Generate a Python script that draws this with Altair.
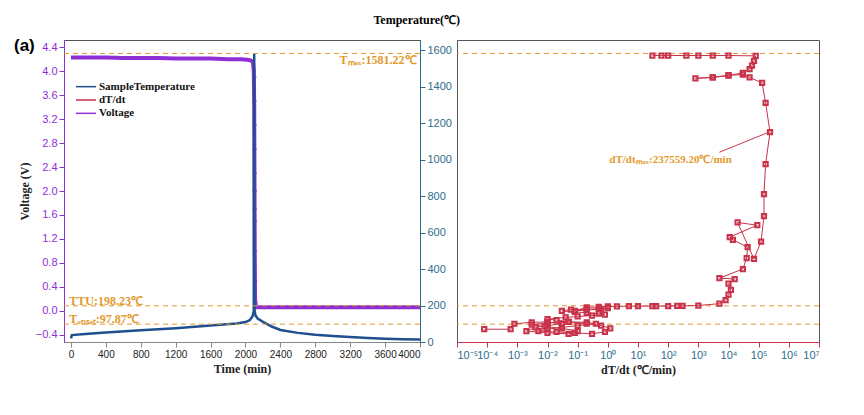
import altair as alt
import pandas as pd

FONT = "Liberation Serif"
PURPLE = "#8e2fd6"
BLUE = "#1f4f8f"
TEAL = "#2d6d8c"
RED = "#c8324a"
ORANGE = "#e39a2d"

# voltage vs time
volt_t = [0, 200, 400, 600, 800, 1000, 1200, 1400, 1600, 1800, 1950, 2020, 2060, 2085, 2095, 2100, 2103, 2106, 2110, 2120, 2200, 2600, 3000, 3400, 3800, 4000]
volt_v = [4.23, 4.23, 4.23, 4.22, 4.22, 4.22, 4.21, 4.21, 4.21, 4.20, 4.20, 4.19, 4.18, 4.15, 4.00, 3.4, 2.2, 1.0, 0.2, 0.06, 0.06, 0.06, 0.06, 0.06, 0.06, 0.06]
# scattered voltage points during the drop
drop_t = [2100, 2101, 2102, 2103, 2104, 2105, 2106, 2107, 2108, 2109]
drop_v = [3.9, 3.5, 3.1, 2.7, 2.3, 2.0, 1.7, 1.5, 1.0, 0.5]

# sample temperature vs time
temp_t = [0, 10, 200, 400, 800, 1200, 1600, 1900, 2000, 2050, 2080, 2095, 2100, 2102, 2105, 2115, 2140, 2200, 2300, 2400, 2600, 2800, 3000, 3200, 3400, 3600, 3800, 4000]
temp_v = [20, 38, 45, 52, 64, 76, 90, 102, 109, 120, 140, 170, 1581, 300, 170, 145, 128, 110, 85, 66, 50, 40, 33, 27, 22, 18, 15, 14]

# dT/dt vs temperature, in drawing order
rate = [8e-5, 6e-4, 8e-4, 3e-3, 1e-2, 3e-2, 1e-2, 4e-3, 2e-3, 1e-2, 5e-2, 1e-1, 3e-2, 8e-3, 3e-3, 1e-2, 5e-2, 2e-1, 4e-1, 1e-1, 3e-2, 1e-2, 5e-3, 2e-2, 8e-2, 3e-1, 8e-1, 1.2, 6e-1, 2e-1, 5e-2, 2e-2, 1e-2, 4e-2, 1e-1, 3e-1, 8e-1, 5e-1, 2e-1, 8e-2, 3e-2, 6e-2, 2e-1, 5e-1, 1.0, 6e-1, 2e-1, 8e-2, 2e-1, 5e-1, 1.0, 2.0, 5.0, 1e1, 3e1, 4e1, 1e2, 2e2, 3e2, 1e3, 5e3, 8e3, 1e4, 1.2e4, 1e4, 1.6e4, 5e3, 3e4, 4e4, 4.3e4, 1.4e4, 1.1e4, 9e4, 2e4, 7e4, 1.2e5, 1.5e5, 1.5e5, 1.7e5, 2.38e5, 1.7e5, 1.3e5, 5e4, 3e4, 1e4, 3e3, 8e2, 3e3, 1e4, 3e4, 5e4, 6e4, 7e4, 8e4, 1e4, 3e3, 1e3, 4e2, 1e2, 6e1, 3e1]
rate_T = [70, 70, 100, 108, 110, 100, 90, 80, 60, 50, 45, 60, 75, 85, 95, 105, 110, 108, 100, 90, 80, 70, 60, 55, 50, 45, 55, 75, 90, 100, 110, 120, 125, 135, 140, 145, 150, 155, 160, 165, 170, 178, 180, 182, 185, 180, 175, 170, 190, 192, 195, 195, 196, 197, 197, 197, 197, 198, 198, 200, 210, 230, 260, 285, 320, 345, 350, 400, 460, 520, 560, 575, 640, 655, 455, 550, 690, 810, 975, 1150, 1310, 1420, 1450, 1465, 1462, 1450, 1445, 1450, 1460, 1475, 1495, 1515, 1540, 1568, 1570, 1570, 1570, 1570, 1570, 1570, 1570]

t_max = 1581.22
t_tu = 198.23
t_onset = 97.87

volt_df = pd.DataFrame({"t": volt_t, "v": volt_v})
drop_df = pd.DataFrame({"t": drop_t, "v": drop_v})
temp_df = pd.DataFrame({"t": temp_t, "T": temp_v})
rate_df = pd.DataFrame({"r": rate, "T": rate_T, "i": range(len(rate))})
ref_df = pd.DataFrame({"T": [t_max, t_tu, t_onset], "dash": ["a", "b", "c"]})

T_DOM = [0, 1655]
time_axis = alt.Axis(values=list(range(0, 4001, 400)), format="d", labelOverlap=False,
                     labelFontSize=10, grid=False, labelColor="#222")
x_time = alt.X("t:Q", title="Time (min)", scale=alt.Scale(domain=[-80, 4000], nice=False), axis=time_axis)
y_temp_axis = alt.Axis(orient="right", values=list(range(0, 1601, 200)), format="d", grid=False, title=None,
                       labelColor=TEAL, domainColor=TEAL, tickColor=TEAL, labelFontSize=11)
y_temp = alt.Y("T:Q", scale=alt.Scale(domain=T_DOM, nice=False), axis=y_temp_axis)
y_temp_noaxis = alt.Y("T:Q", scale=alt.Scale(domain=T_DOM, nice=False), axis=None)

volt_line = alt.Chart(volt_df).mark_line(color=PURPLE, strokeWidth=4).encode(
    x=x_time,
    y=alt.Y("v:Q", title="Voltage (V)", scale=alt.Scale(domain=[-0.52, 4.52], nice=False),
            axis=alt.Axis(values=[round(-0.4 + 0.4 * k, 1) for k in range(13)], format=".1f",
                          grid=False, labelColor=PURPLE, domainColor=PURPLE, tickColor=PURPLE,
                          titleColor="#222", titleFontWeight="bold", titleFontSize=12)),
)
drop_pts = alt.Chart(drop_df).mark_point(shape="cross", color=PURPLE, size=20, filled=True).encode(
    x=x_time, y=alt.Y("v:Q", scale=alt.Scale(domain=[-0.52, 4.52], nice=False), axis=None))
temp_line = alt.Chart(temp_df).mark_line(color=BLUE, strokeWidth=2.5).encode(x=x_time, y=y_temp)
ref_left = alt.Chart(ref_df).mark_rule(color=ORANGE, strokeDash=[5, 4], strokeWidth=1).encode(y=y_temp_noaxis)

ann_df = pd.DataFrame({"t": [3960, -20, -20], "T": [1545, 225, 125],
                       "txt": ["Tₘₐₓ:1581.22℃", "TTU:198.23℃", "Tₒₙₛₑₜ:97.87℃"]})
ann_right = alt.Chart(ann_df.iloc[[0]]).mark_text(align="right", color=ORANGE, font=FONT, fontWeight="bold", fontSize=12).encode(
    x=x_time, y=y_temp_noaxis, text="txt:N")
ann_left = alt.Chart(ann_df.iloc[[1, 2]]).mark_text(align="left", color=ORANGE, font=FONT, fontWeight="bold", fontSize=12).encode(
    x=x_time, y=y_temp_noaxis, text="txt:N")

leg_names = ["SampleTemperature", "dT/dt", "Voltage"]
leg_colors = [BLUE, RED, PURPLE]
leg_df = pd.DataFrame({"name": leg_names, "c": leg_colors, "row": [0, 1, 2]})
leg_line = alt.Chart(leg_df).mark_rule(strokeWidth=1.5).encode(
    x=alt.value(12), x2=alt.value(32), y=alt.Y("row:O", axis=None, scale=alt.Scale(range=[40, 80])),
    color=alt.Color("c:N", scale=None))
leg_txt = alt.Chart(leg_df).mark_text(align="left", font=FONT, fontWeight="bold", fontSize=11, color="#111").encode(
    x=alt.value(35), y=alt.Y("row:O", axis=None, scale=alt.Scale(range=[40, 80])), text="name:N")
label_a = alt.Chart(pd.DataFrame({"s": ["(a)"]})).mark_text(fontSize=17, fontWeight="bold", font="Liberation Sans", align="left").encode(
    x=alt.value(-50), y=alt.value(6), text="s:N")

left = alt.layer(volt_line, drop_pts, temp_line, ref_left, ann_right, ann_left, leg_line, leg_txt, label_a).resolve_scale(
    y="independent").properties(width=356, height=302)

exps = list(range(-5, 8))
sup = {"-": "⁻", "0": "⁰", "1": "¹", "2": "²", "3": "³", "4": "⁴", "5": "⁵", "6": "⁶", "7": "⁷", "8": "⁸", "9": "⁹"}
expr = '""'
for e in exps:
    s = "10" + "".join(sup[ch] for ch in str(e))
    expr = f'(round(log(datum.value)/LN10)=={e}) ? "{s}" : ({expr})'

x_rate = alt.X("r:Q", title="dT/dt (℃/min)", scale=alt.Scale(type="log", domain=[1e-5, 1e7], nice=False),
               axis=alt.Axis(values=[10.0 ** e for e in exps], labelExpr=expr, grid=False, labelColor=TEAL,
                             labelFontSize=11, domainColor=RED, tickColor=RED))
rate_line = alt.Chart(rate_df).mark_line(color=RED, strokeWidth=1, point=alt.OverlayMarkDef(
    shape="square", filled=False, color=RED, size=18)).encode(
    x=x_rate, order="i:Q",
    y=alt.Y("T:Q", scale=alt.Scale(domain=T_DOM, nice=False),
            axis=alt.Axis(values=list(range(0, 1601, 200)), labels=False, grid=False, title=None,
                          domainColor=TEAL, tickColor=TEAL)))
ref_right = alt.Chart(ref_df).mark_rule(color=ORANGE, strokeDash=[5, 4], strokeWidth=1).encode(y=y_temp_noaxis)
arrow_df = pd.DataFrame({"r": [5e3, 2.2e5], "T": [1040, 1150]})
arrow = alt.Chart(arrow_df).mark_line(color=RED, strokeWidth=1).encode(x="r:Q", y="T:Q")
rate_ann = alt.Chart(pd.DataFrame({"r": [1.2e2], "T": [1000], "txt": ["dT/dtₘₐₓ:237559.20℃/min"]})).mark_text(
    color=ORANGE, font=FONT, fontWeight="bold", fontSize=11).encode(x="r:Q", y="T:Q", text="txt:N")
right = alt.layer(ref_right, rate_line, arrow, rate_ann).properties(width=362, height=302)

chart = alt.hconcat(left, right, spacing=4).properties(
    title=alt.TitleParams("Temperature(℃)", font=FONT, fontSize=12, fontWeight="bold", anchor="middle", offset=10)
).configure_axis(
    labelFont="Liberation Sans", labelFontSize=11, titleFont=FONT, titleFontWeight="bold", titleFontSize=12,
    titleColor="#222"
).configure_axisX(labelOverlap=False).configure_view(stroke="#555")

chart.save("out.html", embed_options={"renderer": "svg", "actions": False})
